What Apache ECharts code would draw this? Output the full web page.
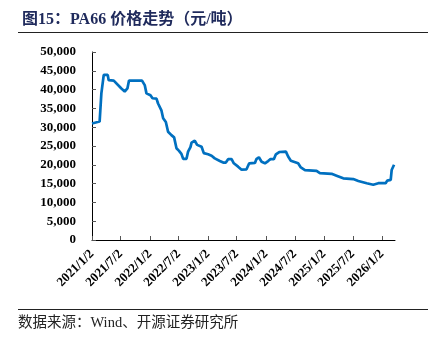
<!DOCTYPE html>
<html><head><meta charset="utf-8">
<script src="https://cdn.jsdelivr.net/npm/echarts@6/dist/echarts.min.js"></script>
<style>html,body{margin:0;padding:0;background:#fff}#c{width:442px;height:343px}</style>
</head><body><div id="c"></div>
<script>
const dates = ['2021/1/2','2021/2/19','2021/3/2','2021/3/17','2021/4/11','2021/4/17','2021/5/19','2021/7/6','2021/7/27','2021/8/13','2021/8/23','2021/11/13','2021/11/30','2021/12/11','2022/1/5','2022/1/18','2022/2/12','2022/2/22','2022/3/15','2022/3/26','2022/4/12','2022/4/26','2022/5/17','2022/6/3','2022/6/18','2022/7/4','2022/7/19','2022/7/30','2022/8/20','2022/8/30','2022/9/14','2022/9/21','2022/10/11','2022/10/26','2022/11/23','2022/12/7','2023/1/3','2023/1/25','2023/2/14','2023/3/18','2023/4/8','2023/4/25','2023/5/9','2023/5/31','2023/6/14','2023/7/11','2023/8/2','2023/9/2','2023/9/19','2023/10/25','2023/11/3','2023/11/19','2023/12/6','2023/12/27','2024/1/16','2024/1/31','2024/2/21','2024/3/5','2024/3/26','2024/5/7','2024/5/21','2024/6/7','2024/7/23','2024/8/9','2024/9/4','2024/11/16','2024/12/7','2025/2/19','2025/3/22','2025/5/3','2025/7/5','2025/8/6','2025/9/28','2025/11/8','2025/11/19','2025/12/10','2026/1/25','2026/2/4','2026/2/26','2026/3/4','2026/3/19'];
const prices = [31000,31500,39000,43900,43900,42500,42400,40300,39500,40300,42400,42400,41200,39000,38500,37700,37600,36300,34500,32400,31400,28800,27900,27300,24400,23700,22900,21600,21600,23500,24700,25900,26400,25300,24800,23100,22800,22400,21700,21000,20600,20600,21500,21500,20400,19500,18700,18800,20400,20500,21500,22000,20800,20400,21000,21500,21500,22800,23400,23500,22200,21100,20400,19300,18600,18400,17800,17600,17100,16400,16200,15700,15100,14700,14600,15100,15100,15800,16000,18600,20000];
const xTickLabels = ['2021/1/2','2021/7/2','2022/1/2','2022/7/2','2023/1/2','2023/7/2','2024/1/2','2024/7/2','2025/1/2','2025/7/2','2026/1/2'];
const yTickValues = [0,5000,10000,15000,20000,25000,30000,35000,40000,45000,50000];
const xMin = '2021/1/2', xMax = '2026/3/25';

function ts(s){const p=s.split('/').map(Number);return Date.UTC(p[0],p[1]-1,p[2]);}
const xTicks = xTickLabels.map(ts);
const fmtNum = v => String(v).replace(/\B(?=(\d{3})+(?!\d))/g, ',');
const serif = '"Liberation Serif","Times New Roman",serif';

const chart = echarts.init(document.getElementById('c'), null, {renderer:'canvas'});
chart.setOption({
  animation:false,
  backgroundColor:'#fff',
  title:{
    text:'图15：PA66 价格走势（元/吨）',
    left:17, top:7,
    textStyle:{fontFamily:'"Liberation Serif","Noto Sans CJK SC",serif', fontWeight:'bold', fontSize:16, color:'#1f2a5c'}
  },
  grid:{left:92, top:52, right:47, bottom:103, containLabel:false},
  xAxis:{
    type:'value', min:ts(xMin), max:ts(xMax),
    axisLine:{show:true, onZero:false, lineStyle:{color:'#000', width:1}},
    axisTick:{show:true, inside:true, length:4, customValues:xTicks, lineStyle:{color:'#555'}},
    axisLabel:{customValues:xTicks, rotate:45, margin:12, fontFamily:serif, fontWeight:'bold', fontSize:13, color:'#000',
      formatter:v=>{const i=xTicks.indexOf(v);return i>=0?xTickLabels[i]:'';}},
    splitLine:{show:false}
  },
  yAxis:{
    type:'value', min:0, max:50000, interval:5000,
    axisLine:{show:true, lineStyle:{color:'#000', width:1}},
    axisTick:{show:true, inside:true, length:4, lineStyle:{color:'#555'}},
    axisLabel:{customValues:yTickValues, margin:16, fontFamily:serif, fontWeight:'bold', fontSize:13, color:'#000', formatter:v=>fmtNum(v)},
    splitLine:{show:false}
  },
  series:[{
    type:'line', showSymbol:false, symbol:'none',
    lineStyle:{color:'#0070C0', width:2.7}, z:5,
    data:dates.map((d,i)=>[ts(d), prices[i]])
  }],
  graphic:[
    {type:'line', shape:{x1:18,y1:32.5,x2:428,y2:32.5}, style:{stroke:'#222', lineWidth:1}},
    {type:'line', shape:{x1:18,y1:309.5,x2:428,y2:309.5}, style:{stroke:'#222', lineWidth:1}},
    {type:'text', left:18, top:316, style:{text:'数据来源：Wind、开源证券研究所', fontFamily:'"Liberation Serif","Noto Sans CJK SC",serif', fontSize:14.5, fill:'#222'}}
  ]
});
</script></body></html>
